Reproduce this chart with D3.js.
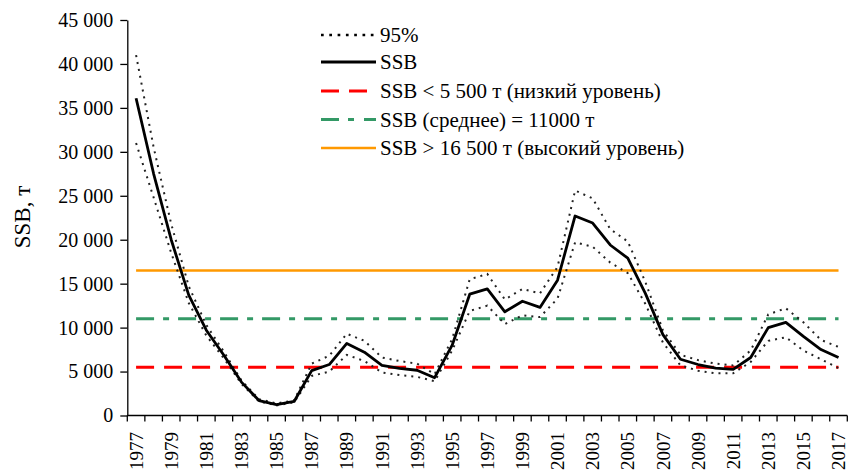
<!DOCTYPE html>
<html><head><meta charset="utf-8">
<script src="https://cdn.jsdelivr.net/npm/d3@7"></script>
<style>
body{margin:0;background:#fff;}
svg{display:block;}
svg text{font-family:"Liberation Serif","Times New Roman",serif !important;fill:#000;}
</style></head>
<body>
<svg id="chart" width="848" height="472"></svg>
<script>
const years = d3.range(1977, 2018);
const ssb = [36100,27500,20000,13700,9700,6850,3800,1700,1250,1600,5100,5800,8200,7200,5700,5350,5150,4300,8000,13800,14400,11800,13000,12300,15400,22700,21900,19400,17900,13900,9200,6400,5800,5400,5250,6600,10000,10600,9000,7500,6600];
const upper95 = [41000,30500,21800,14700,10300,7250,4000,1850,1380,1720,5900,6800,9300,8500,6600,6200,5900,4700,8700,15500,16100,13200,14400,13900,16900,25600,24700,21200,19800,15200,9700,6900,6300,5900,5700,7400,11500,12200,10600,8600,7800];
const lower95 = [31000,24800,18500,12800,9100,6500,3600,1600,1150,1500,4500,5000,6900,6200,4900,4600,4400,3900,7400,11900,12500,10400,11400,11200,13300,19700,19200,17400,16200,12700,8300,5700,5100,4800,4800,6100,8500,8900,7400,6400,5400];
const lowLevel = 5500;
const meanLevel = 11000;
const highLevel = 16500;
const yTicks = [0,5000,10000,15000,20000,25000,30000,35000,40000,45000];
const labelYears = years.filter(v => (v - 1977) % 2 === 0);
const legendLabels = ["95%","SSB","SSB < 5 500 т (низкий уровень)","SSB (среднее) = 11000 т","SSB > 16 500 т (высокий уровень)"];
const yTitle = "SSB, т";

const svg = d3.select("#chart");
const mLeft = 127.3, mRight = 847.3, mTop = 20, mBottom = 415.5;
const x = d3.scaleBand().domain(years).range([mLeft, mRight]).padding(0);
const y = d3.scaleLinear().domain([0, 45000]).range([mBottom, mTop]);
const cx = yr => x(yr) + x.bandwidth() / 2;

// Y axis
const fmt = v => d3.format(",")(v).replace(/,/g, " ");
const yAxis = svg.append("g").attr("transform", `translate(${mLeft},0)`)
  .call(d3.axisLeft(y).tickValues(yTicks).tickFormat(fmt).tickSize(7).tickPadding(7).tickSizeOuter(0));
yAxis.selectAll("text").attr("font-size", 20);
yAxis.selectAll("line,path").attr("stroke", "#000").attr("stroke-width", 1.3);

// X axis line + ticks at band edges
const xg = svg.append("g");
xg.append("line").attr("x1", mLeft).attr("x2", mRight).attr("y1", mBottom).attr("y2", mBottom)
  .attr("stroke", "#000").attr("stroke-width", 1.3);
const edges = years.map(yr => x(yr)).concat([mRight]);
xg.selectAll("line.tk").data(edges).join("line").attr("class", "tk")
  .attr("x1", d => d).attr("x2", d => d).attr("y1", mBottom).attr("y2", mBottom + 6)
  .attr("stroke", "#000").attr("stroke-width", 1.3);
xg.selectAll("text").data(labelYears).join("text")
  .attr("transform", d => `translate(${cx(d)},432) rotate(-90)`)
  .attr("text-anchor", "end").attr("dy", "0.35em")
  .attr("font-size", 19).text(d => d);

// Y title
svg.append("text").attr("transform", "translate(22,217) rotate(-90)")
  .attr("text-anchor", "middle").attr("dy", "0.35em").attr("font-size", 23).text(yTitle);

// reference lines
const hline = (val, color, dash, w) => svg.append("path")
  .attr("d", d3.line()([[cx(years[0]), y(val)], [cx(years[years.length - 1]), y(val)]]))
  .attr("stroke", color).attr("stroke-width", w).attr("fill", "none").attr("stroke-dasharray", dash);
hline(highLevel, "#FF9900", null, 2.6);
hline(meanLevel, "#339966", "18,9,6,9", 3);
hline(lowLevel, "#FF0000", "18,10", 3);

// series
const line = d3.line().x((d, i) => cx(years[i])).y(d => y(d));
svg.append("path").attr("d", line(upper95)).attr("fill", "none").attr("stroke", "#222").attr("stroke-width", 2).attr("stroke-dasharray", "2,5");
svg.append("path").attr("d", line(lower95)).attr("fill", "none").attr("stroke", "#222").attr("stroke-width", 2).attr("stroke-dasharray", "2,5");
svg.append("path").attr("d", line(ssb)).attr("fill", "none").attr("stroke", "#000").attr("stroke-width", 2.8).attr("stroke-linejoin", "round");

// legend
const legY = [35, 62, 91, 119.5, 148];
const legStyles = [
  {c: "#000", w: 2.7, d: "2.7,5.6"},
  {c: "#000", w: 3, d: null},
  {c: "#FF0000", w: 3, d: "18,10"},
  {c: "#339966", w: 3, d: "18,9,6,10"},
  {c: "#FF9900", w: 2.6, d: null}
];
const lg = svg.append("g");
legendLabels.forEach((t, i) => {
  lg.append("line").attr("x1", 321).attr("x2", 376).attr("y1", legY[i]).attr("y2", legY[i])
    .attr("stroke", legStyles[i].c).attr("stroke-width", legStyles[i].w).attr("stroke-dasharray", legStyles[i].d);
  lg.append("text").attr("x", 380).attr("y", legY[i]).attr("dy", "0.35em").attr("font-size", 21).text(t);
});
</script>
</body></html>
